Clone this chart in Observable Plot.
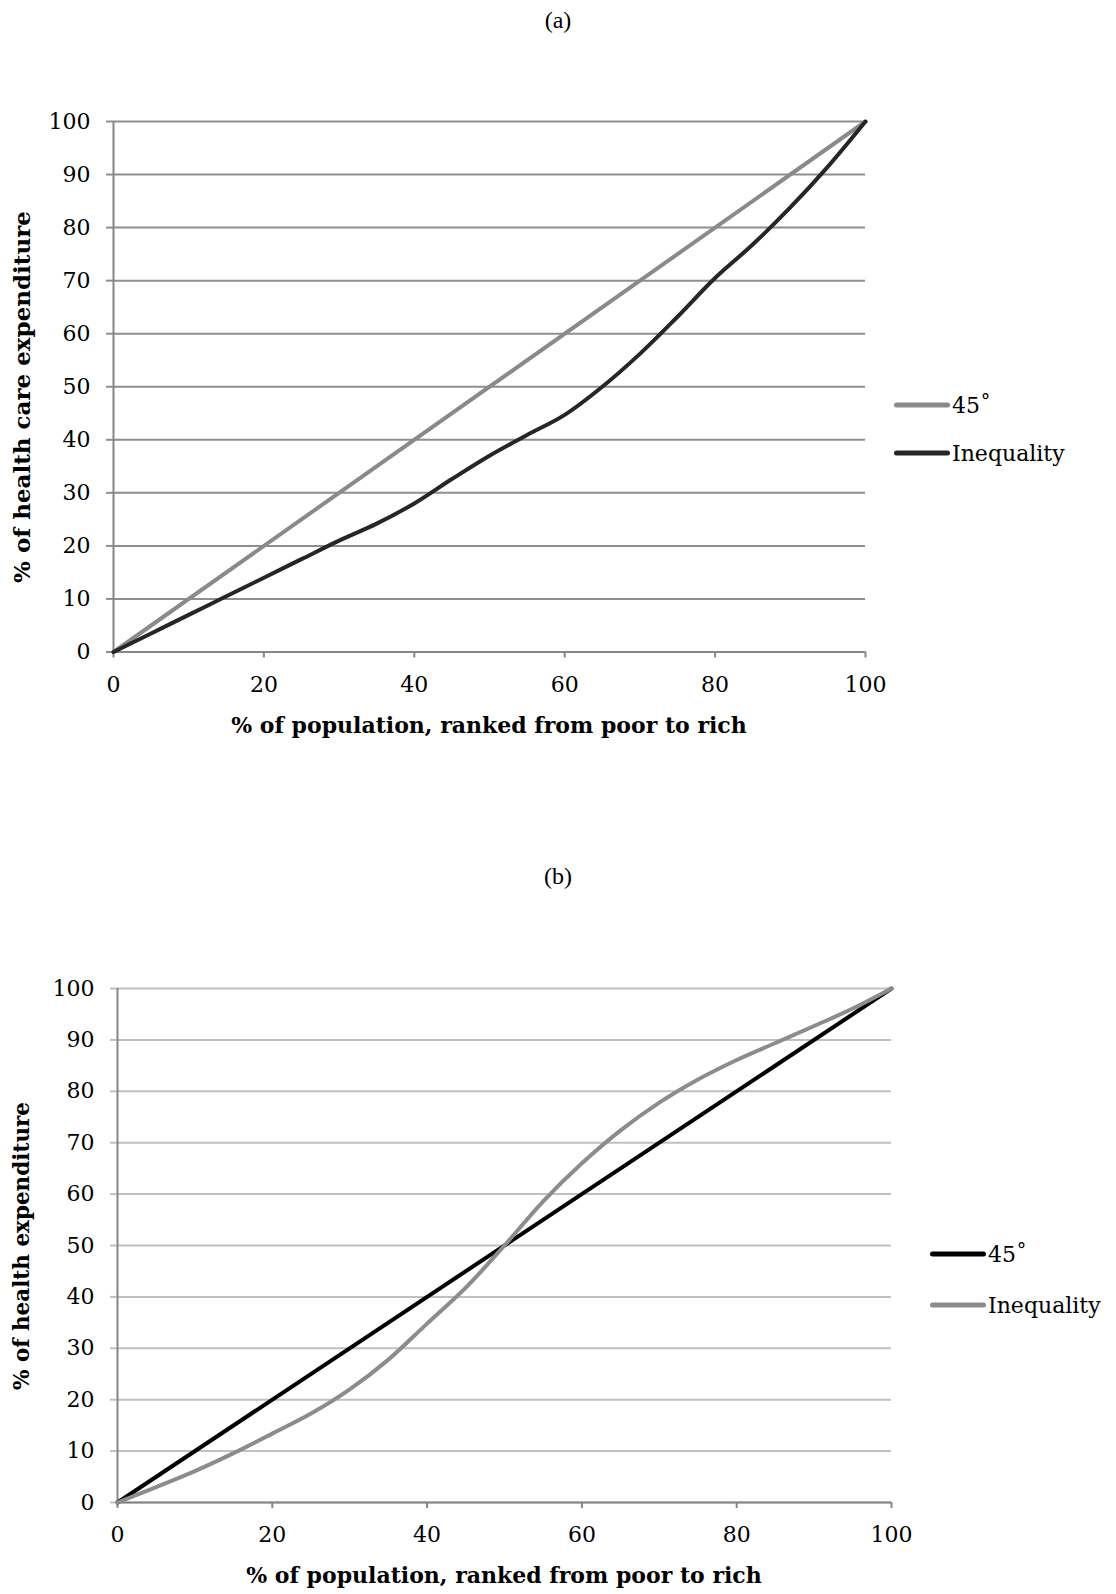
<!DOCTYPE html>
<html>
<head>
<meta charset="utf-8">
<script src="https://cdn.jsdelivr.net/npm/d3@7"></script>
<script src="https://cdn.jsdelivr.net/npm/@observablehq/plot@0.6"></script>
<style>
  html, body { margin: 0; padding: 0; background: #fff; }
  #page { position: relative; width: 1116px; height: 1594px; overflow: hidden; font-family: "DejaVu Serif", serif; color: #000; }
  .abs { position: absolute; }
  .panel-title { font-family: "Liberation Serif", "Times New Roman", serif; font-size: 24px; transform: translate(-50%, -50%); white-space: nowrap; }
  .xtitle { font-weight: bold; font-size: 22px; transform: translate(-50%, -50%); white-space: nowrap; }
  .ytitle { font-weight: bold; font-size: 23px; transform: translate(-50%, -50%) rotate(-90deg); white-space: nowrap; }
  .ytitle.small { font-size: 21.5px; }
  .legend-item { display: flex; align-items: center; transform: translateY(-50%); font-size: 22px; white-space: nowrap; }
  .legend-item .swatch { display: inline-block; width: 56px; height: 5px; border-radius: 2.5px; margin-right: 2px; }
</style>
</head>
<body>
<div id="page"></div>
<script>
// ---------- data ----------
const xTicks = [0, 20, 40, 60, 80, 100];
const yTicks = [0, 10, 20, 30, 40, 50, 60, 70, 80, 90, 100];

// Panel (a)
const popA = [0, 5, 10, 15, 20, 25, 30, 35, 40, 45, 50, 55, 60, 65, 70, 75, 80, 85, 90, 95, 100];
const inequalityA = [0, 3.5, 7, 10.5, 14, 17.5, 21, 24.2, 28, 32.6, 37, 40.9, 44.7, 50, 56.2, 63.2, 70.5, 76.8, 83.8, 91.5, 100];
const diagX = [0, 100];
const diagY = [0, 100];

// Panel (b)
const popB = [0, 5, 10, 15, 20, 25, 30, 35, 40, 45, 50, 55, 60, 65, 70, 75, 80, 85, 90, 95, 100];
const inequalityB = [0, 3, 6.1, 9.6, 13.4, 17.3, 22, 27.8, 34.8, 41.8, 50, 58.6, 66, 72.4, 77.8, 82.3, 86.1, 89.4, 92.7, 96.1, 100];

const seriesNames = ["45˚", "Inequality"];
const titleA = "(a)";
const titleB = "(b)";
const xLabel = "% of population, ranked from poor to rich";
const yLabelA = "% of health care expenditure";
const yLabelB = "% of health expenditure";

// ---------- helpers ----------
const page = document.getElementById("page");
function addDiv(cls, text, left, top) {
  const d = document.createElement("div");
  d.className = "abs " + cls;
  d.textContent = text;
  d.style.left = left + "px";
  d.style.top = top + "px";
  page.appendChild(d);
  return d;
}
function addLegend(name, color, left, top) {
  const d = document.createElement("div");
  d.className = "abs legend-item";
  d.style.left = left + "px";
  d.style.top = top + "px";
  const sw = document.createElement("span");
  sw.className = "swatch";
  sw.style.background = color;
  const t = document.createElement("span");
  t.textContent = name;
  d.appendChild(sw);
  d.appendChild(t);
  page.appendChild(d);
}

function makeChart({xs, ys, ineqColor, diagColor, gridColor, height, mt, mb, ml, mr}) {
  const ineqRows = xs.map((x, i) => ({x, y: ys[i]}));
  const diagRows = diagX.map((x, i) => ({x, y: diagY[i]}));
  return Plot.plot({
    width: 1116,
    height,
    marginTop: mt,
    marginBottom: mb,
    marginLeft: ml,
    marginRight: mr,
    style: {fontFamily: "DejaVu Serif", fontSize: "22px", color: "#000", background: "transparent", overflow: "visible"},
    x: {domain: [0, 100]},
    y: {domain: [0, 100]},
    marks: [
      Plot.gridY(yTicks, {stroke: gridColor, strokeOpacity: 1, strokeWidth: 2}),
      Plot.axisY(yTicks, {tickSize: 7, tickPadding: 16, stroke: gridColor, strokeWidth: 2, label: null, fontSize: 22, tickFormat: d => String(d)}),
      Plot.axisX(xTicks, {tickSize: 6, tickPadding: 18, stroke: "#868686", strokeWidth: 2, label: null, fontSize: 22, tickFormat: d => String(d)}),
      Plot.ruleX([0], {stroke: "#868686", strokeWidth: 2}),
      Plot.ruleY([0], {stroke: "#868686", strokeWidth: 2}),
      Plot.line(diagRows, {x: "x", y: "y", stroke: diagColor, strokeWidth: 4}),
      Plot.line(ineqRows, {x: "x", y: "y", stroke: ineqColor, strokeWidth: 4, curve: "catmull-rom"})
    ]
  });
}

// ---------- panel (a) ----------
addDiv("panel-title", titleA, 558, 20);
const chartA = makeChart({xs: popA, ys: inequalityA, ineqColor: "#262626", diagColor: "#8a8a8a", gridColor: "#8f8f8f",
  height: 700, mt: 61, mb: 108.5, ml: 113, mr: 251});
chartA.style.position = "absolute";
chartA.style.left = "0px";
chartA.style.top = "60px";
page.appendChild(chartA);
addDiv("xtitle", xLabel, 489, 725);
addDiv("ytitle", yLabelA, 21, 397);
addLegend(seriesNames[0], "#8a8a8a", 894, 405);
addLegend(seriesNames[1], "#262626", 894, 453);

// ---------- panel (b) ----------
addDiv("panel-title", titleB, 558, 876);
const chartB = makeChart({xs: popB, ys: inequalityB, ineqColor: "#8c8c8c", diagColor: "#000000", gridColor: "#c0c0c0",
  height: 664, mt: 58, mb: 92, ml: 117, mr: 225});
chartB.style.position = "absolute";
chartB.style.left = "0px";
chartB.style.top = "930px";
page.appendChild(chartB);
addDiv("xtitle", xLabel, 504, 1575);
addDiv("ytitle small", yLabelB, 21, 1246);
addLegend(seriesNames[0], "#000000", 930, 1254);
addLegend(seriesNames[1], "#8c8c8c", 930, 1305);
</script>
</body>
</html>
